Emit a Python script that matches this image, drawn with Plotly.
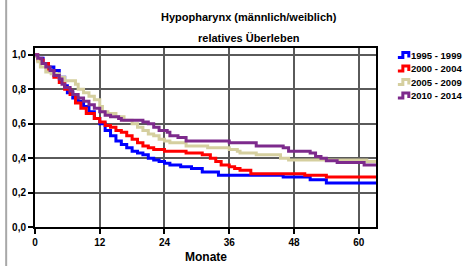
import plotly.graph_objects as go

# ---- data ----
series_names = ["1995 - 1999", "2000 - 2004", "2005 - 2009", "2010 - 2014"]

months_1995 = [0, 0.5, 1.5, 2.5, 3.5, 4.5, 5.5, 6, 7, 8, 9, 10, 11, 12, 13, 14, 15, 16, 17, 18,
               19, 20, 21, 22, 23, 24, 25, 27, 29, 31, 34, 46, 51, 54]
surv_1995 = [1.0, 0.98, 0.95, 0.93, 0.91, 0.87, 0.82, 0.78, 0.75, 0.73, 0.70, 0.67, 0.63, 0.60, 0.56,
             0.53, 0.50, 0.48, 0.46, 0.44, 0.43, 0.42, 0.40, 0.39, 0.38, 0.37, 0.36, 0.35, 0.34, 0.32,
             0.30, 0.29, 0.275, 0.255]

months_2000 = [0, 0.5, 1.5, 2.5, 3.5, 4.5, 5.5, 6.5, 7.5, 8.5, 9.5, 11, 12, 13, 14, 15, 16, 17, 18,
               19, 20, 21, 22, 24, 28, 31, 32.5, 33.5, 34.5, 36, 37, 38, 40, 50, 54]
surv_2000 = [1.0, 0.97, 0.95, 0.91, 0.87, 0.84, 0.80, 0.77, 0.72, 0.69, 0.66, 0.63, 0.61, 0.59, 0.58,
             0.56, 0.55, 0.53, 0.51, 0.49, 0.47, 0.46, 0.45, 0.44, 0.43, 0.42, 0.40, 0.38, 0.36, 0.35,
             0.34, 0.33, 0.31, 0.30, 0.29]

months_2005 = [0, 0.5, 1, 2, 3, 4.5, 5.5, 7.5, 8, 9, 10, 11, 12, 12.5, 13.5, 15, 16.5, 18, 19, 20,
               21, 22, 23, 24, 25, 28, 32, 36, 37.5, 38, 41, 45.5, 47, 61.5]
surv_2005 = [0.99, 0.96, 0.93, 0.90, 0.89, 0.87, 0.85, 0.83, 0.80, 0.78, 0.76, 0.74, 0.70, 0.67, 0.66,
             0.64, 0.62, 0.60, 0.58, 0.56, 0.54, 0.53, 0.51, 0.50, 0.49, 0.47, 0.46, 0.45, 0.44, 0.43,
             0.42, 0.40, 0.39, 0.38]

months_2010 = [0, 0.5, 1.3, 2, 2.8, 3.5, 4.5, 5, 5.5, 6.5, 7, 8, 9, 10, 11, 12, 13, 14, 15.5, 16,
               20, 21, 22, 23, 24.5, 25, 26.5, 28, 36, 41, 46, 47, 51, 52, 53, 54, 56, 61]
surv_2010 = [1.0, 0.98, 0.95, 0.93, 0.91, 0.88, 0.86, 0.83, 0.81, 0.79, 0.77, 0.75, 0.73, 0.71, 0.69,
             0.67, 0.65, 0.64, 0.63, 0.62, 0.61, 0.60, 0.58, 0.56, 0.55, 0.53, 0.52, 0.50, 0.49, 0.47,
             0.46, 0.44, 0.43, 0.41, 0.40, 0.385, 0.375, 0.36]

follow_up_end = 63.2
x_ticks = [0, 12, 24, 36, 48, 60]
y_ticks = [0.0, 0.2, 0.4, 0.6, 0.8, 1.0]
title_lines = ["Hypopharynx (männlich/weiblich)", "relatives Überleben"]
x_title = "Monate"

colors = ["#0000ff", "#ff0000", "#d5cf9f", "#7d2a8c"]

# ---- layout geometry ----
W, H = 464, 266
L, R, T, B = 33, 88, 48, 39
pw, ph = W - L - R, H - T - B


def px(x):
    return (x - L) / pw


def py(y):
    return (H - B - y) / ph


FONT = "Liberation Sans, Arial, sans-serif"

fig = go.Figure()
all_series = [(months_1995, surv_1995), (months_2000, surv_2000),
              (months_2005, surv_2005), (months_2010, surv_2010)]
for (m, s), name, c in zip(all_series, series_names, colors):
    fig.add_trace(go.Scatter(
        x=m + [follow_up_end], y=s + [s[-1]], mode="lines", name=name,
        line=dict(shape="hv", color=c, width=3), showlegend=False,
        hoverinfo="skip"))

axis_common = dict(
    showgrid=True, gridcolor="#5a5a5a", gridwidth=1.5,
    showline=True, linecolor="black", linewidth=2, mirror=True,
    ticks="outside", ticklen=5, tickcolor="black", tickwidth=1.5,
    tickfont=dict(family=FONT, size=10, color="black", weight="bold"),
    zeroline=False,
)

fig.update_layout(
    width=W, height=H, autosize=False,
    margin=dict(l=L, r=R, t=T, b=B, pad=0),
    paper_bgcolor="white", plot_bgcolor="white",
    separators=",.",
    xaxis=dict(range=[0, follow_up_end], tickvals=x_ticks, **axis_common),
    yaxis=dict(range=[0, 1.04], tickvals=y_ticks, tickformat=".1f", **axis_common),
    showlegend=False,
)

annotations = []
shapes = []
# titles
for txt, ycen in zip(title_lines, [16.5, 38]):
    annotations.append(dict(text=txt, x=px(248), y=py(ycen), xref="paper", yref="paper",
                            xanchor="center", yanchor="middle", showarrow=False,
                            font=dict(family=FONT, size=11, color="black", weight="bold")))
annotations.append(dict(text=x_title, x=px(205), y=py(257), xref="paper", yref="paper",
                        xanchor="center", yanchor="middle", showarrow=False,
                        font=dict(family=FONT, size=12, color="black", weight="bold")))

# legend (drawn as decoration)
for i, (name, c) in enumerate(zip(series_names, colors)):
    yc = 55 + i * 13.5
    x0 = 398
    path = (f"M {px(x0)},{py(yc + 2.5)} L {px(x0 + 5)},{py(yc + 2.5)} "
            f"L {px(x0 + 5)},{py(yc - 2.5)} L {px(x0 + 11)},{py(yc - 2.5)} "
            f"L {px(x0 + 11)},{py(yc + 2.5)}")
    shapes.append(dict(type="path", path=path, xref="paper", yref="paper",
                       line=dict(color=c, width=3)))
    annotations.append(dict(text=name, x=px(409), y=py(yc), xref="paper", yref="paper",
                            xanchor="left", yanchor="middle", showarrow=False,
                            font=dict(family=FONT, size=9.5, color="black", weight="bold")))

# left window border
shapes.append(dict(type="line", xref="paper", yref="paper",
                   x0=px(4), x1=px(4), y0=py(H), y1=py(0),
                   line=dict(color="#a8a8a8", width=2)))

fig.update_layout(annotations=annotations, shapes=shapes)
fig.write_html("out.html", config={"displayModeBar": False},
               post_script="document.body.style.margin='0';document.body.style.padding='0';")
